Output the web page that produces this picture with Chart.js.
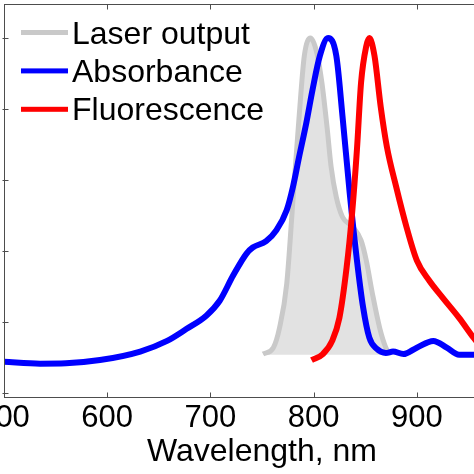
<!DOCTYPE html>
<html>
<head>
<meta charset="utf-8">
<script src="https://cdn.jsdelivr.net/npm/chart.js@4"></script>
<style>
  html, body { margin: 0; padding: 0; background: #fff; overflow: hidden; }
  body { width: 474px; height: 474px; position: relative; }
  #wrap { position: absolute; left: -60px; top: 0; width: 600px; height: 474px; }
</style>
</head>
<body>
<div id="wrap"><canvas id="specChart"></canvas></div>
<script>
// spectra (wavelength in nm, normalised intensity)
const laserWl  = [751, 761, 767, 774, 780, 786, 791, 797, 803, 808, 813, 817, 822, 828, 838, 846, 851, 857, 864, 870, 874];
const laserVal = [0.11, 0.128, 0.184, 0.309, 0.544, 0.78, 0.95, 1.0, 0.96, 0.875, 0.75, 0.637, 0.552, 0.496, 0.468, 0.43, 0.374, 0.28, 0.184, 0.128, 0.11];

const absWl  = [500, 535, 560, 593, 632, 658, 677, 696, 709, 722, 735, 741, 754, 764, 774, 780, 786, 793, 799, 806, 814, 822, 828, 835, 842, 848, 854, 861, 870, 877, 887, 900, 916, 929, 941, 955, 965];
const absVal = [0.088, 0.083, 0.084, 0.093, 0.117, 0.147, 0.181, 0.218, 0.26, 0.331, 0.393, 0.41, 0.428, 0.459, 0.516, 0.581, 0.666, 0.762, 0.855, 0.949, 1.0, 0.95, 0.78, 0.563, 0.374, 0.241, 0.156, 0.125, 0.113, 0.117, 0.11, 0.128, 0.147, 0.128, 0.108, 0.108, 0.11];

const fluWl  = [798, 809, 818, 825, 832, 837, 842, 846, 851, 854, 859, 865, 871, 880, 890, 900, 912, 925, 941, 955, 965];
const fluVal = [0.093, 0.11, 0.147, 0.212, 0.354, 0.496, 0.686, 0.875, 0.977, 1.0, 0.95, 0.807, 0.694, 0.581, 0.468, 0.374, 0.317, 0.269, 0.212, 0.156, 0.12];

const xTicks = [500, 600, 700, 800, 900];
const yTicks = [0, 0.2, 0.4, 0.6, 0.8, 1.0];
const laserBase = 0.108;

const FONT = "'Liberation Sans', Arial, sans-serif";
const toPoints = (xs, ys) => xs.map((x, i) => ({ x: x, y: ys[i] }));

// box round the plot with inward ticks, matlab style
const frameTicks = {
  id: "frameTicks",
  afterDatasetsDraw(chart) {
    const { ctx, chartArea: a, scales } = chart;
    const L = Math.round(a.left) + 0.5, R = Math.round(a.right) + 0.5;
    const T = Math.round(a.top) + 0.5, B = Math.round(a.bottom) + 0.5;
    ctx.save();
    ctx.strokeStyle = "#4d4d4d";
    ctx.lineWidth = 1;
    ctx.strokeRect(L, T, R - L, B - T);
    ctx.beginPath();
    xTicks.forEach(v => {
      const px = Math.round(scales.x.getPixelForValue(v)) + 0.5;
      ctx.moveTo(px, B); ctx.lineTo(px, B - 5);
      ctx.moveTo(px, T); ctx.lineTo(px, T + 5);
    });
    yTicks.forEach(v => {
      const py = Math.round(scales.y.getPixelForValue(v)) + 0.5;
      ctx.moveTo(L - 2, py); ctx.lineTo(L + 4, py);
      ctx.moveTo(R, py); ctx.lineTo(R - 5, py);
    });
    ctx.stroke();
    ctx.restore();
  }
};

// legend inside the axes, top left
const insideLegend = {
  id: "insideLegend",
  afterDraw(chart) {
    const { ctx, chartArea: a } = chart;
    ctx.save();
    ctx.font = "32px " + FONT;
    ctx.textBaseline = "alphabetic";
    chart.data.datasets.forEach((ds, i) => {
      const y = a.top + 28.5 + i * 38.4;
      ctx.fillStyle = ds.borderColor;
      ctx.fillRect(a.left + 17, y - 2.5, 47, 5);
      ctx.fillStyle = "#000";
      ctx.fillText(ds.label, a.left + 68, y + 11);
    });
    ctx.restore();
  }
};

new Chart(document.getElementById("specChart"), {
  type: "line",
  data: {
    datasets: [
      {
        label: "Laser output",
        data: toPoints(laserWl, laserVal),
        borderColor: "#c9c9c9",
        backgroundColor: "#e2e2e2",
        borderWidth: 5,
        fill: { value: laserBase },
        cubicInterpolationMode: "monotone",
        pointRadius: 0,
        order: 3
      },
      {
        label: "Absorbance",
        data: toPoints(absWl, absVal),
        borderColor: "#0000ff",
        borderWidth: 6,
        fill: false,
        cubicInterpolationMode: "monotone",
        pointRadius: 0,
        order: 2
      },
      {
        label: "Fluorescence",
        data: toPoints(fluWl, fluVal),
        borderColor: "#ff0000",
        borderWidth: 6,
        fill: false,
        cubicInterpolationMode: "monotone",
        pointRadius: 0,
        order: 1
      }
    ]
  },
  options: {
    responsive: true,
    maintainAspectRatio: false,
    animation: false,
    layout: { padding: { left: 64, top: 4, right: 20, bottom: 0 } },
    plugins: {
      tooltip: { enabled: false },
      legend: { display: false }
    },
    scales: {
      x: {
        type: "linear",
        min: 500,
        max: 1000,
        grid: { display: false, drawTicks: false },
        border: { display: false },
        afterBuildTicks(scale) { scale.ticks = xTicks.map(v => ({ value: v })); },
        afterFit(scale) { scale.height = 77; },
        ticks: {
          padding: 3,
          color: "#000",
          font: { family: FONT, size: 31 }
        },
        title: {
          display: true,
          text: "Wavelength, nm",
          color: "#000",
          padding: { top: 0, bottom: 3 },
          font: { family: FONT, size: 32 }
        }
      },
      y: {
        type: "linear",
        min: -0.011,
        max: 1.096,
        grid: { display: false, drawTicks: false },
        border: { display: false },
        ticks: { display: false },
        afterFit(scale) { scale.width = 0; }
      }
    }
  },
  plugins: [frameTicks, insideLegend]
});
</script>
</body>
</html>
